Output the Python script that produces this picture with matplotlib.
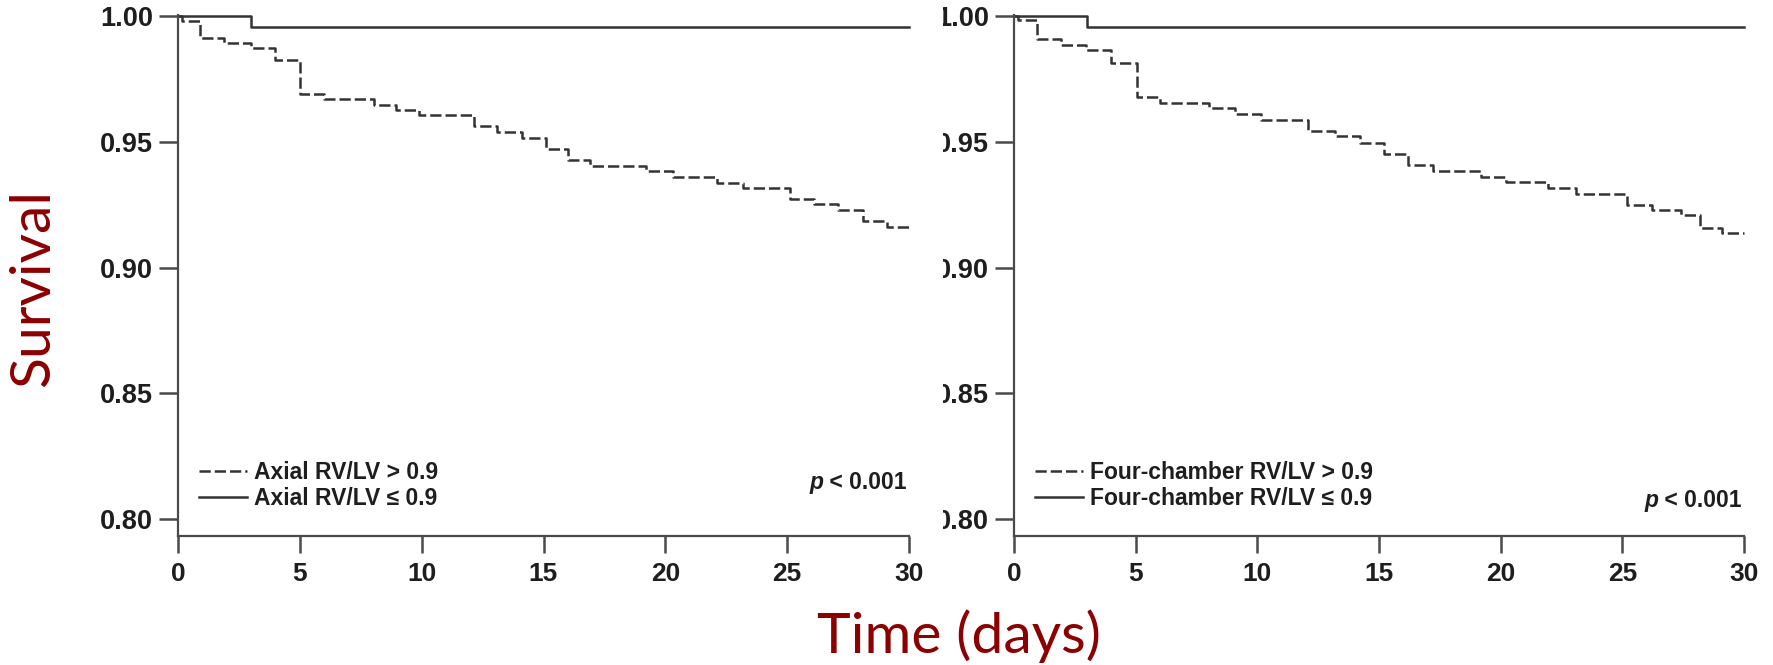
import matplotlib
matplotlib.use("Agg")
import matplotlib.pyplot as plt
from matplotlib.transforms import Bbox

# ---------------- data ----------------
axial_high_t = [0, 0.15, 0.9, 1.9, 3.0, 4.0, 5.0, 6.0, 8.05, 8.95, 9.9, 12.15, 13.1, 14.1,
                15.1, 16.0, 16.9, 19.2, 20.3, 22.1, 23.2, 25.1, 26.1, 27.1, 28.1, 29.1, 30]
axial_high_s = [1.0, 0.998, 0.9913, 0.9893, 0.9873, 0.9827, 0.9692, 0.9672, 0.9647, 0.9627,
                0.9607, 0.9562, 0.954, 0.9517, 0.947, 0.9428, 0.9406, 0.9383, 0.936, 0.9338,
                0.9315, 0.9272, 0.9252, 0.9229, 0.9185, 0.9161, 0.9161]
axial_low_t = [0, 3.0, 30]
axial_low_s = [1.0, 0.9958, 0.9958]

four_high_t = [0, 0.15, 0.94, 1.95, 2.97, 4.0, 5.07, 6.0, 8.0, 9.1, 10.15, 12.1, 13.2, 14.2,
               15.2, 16.2, 17.2, 19.2, 20.2, 21.95, 23.1, 25.2, 26.2, 27.4, 28.2, 29.1, 30]
four_high_s = [1.0, 0.9985, 0.9909, 0.9886, 0.9865, 0.9815, 0.9678, 0.9654, 0.9634, 0.9611,
               0.9587, 0.9543, 0.9523, 0.9497, 0.9453, 0.941, 0.9383, 0.9359, 0.9339, 0.9315,
               0.9292, 0.9249, 0.9229, 0.9208, 0.9158, 0.9138, 0.9138]
four_low_t = [0, 3.0, 30]
four_low_s = [1.0, 0.9958, 0.9958]

x_ticks = [0, 5, 10, 15, 20, 25, 30]
y_ticks = [0.80, 0.85, 0.90, 0.95, 1.00]
y_ticklabels = ["0.80", "0.85", "0.90", "0.95", "1.00"]

labels_left = ["Axial RV/LV > 0.9", "Axial RV/LV \u2264 0.9"]
labels_right = ["Four-chamber RV/LV > 0.9", "Four-chamber RV/LV \u2264 0.9"]
p_text = "p"
p_rest = " < 0.001"

# ---------------- style ----------------
W, H = 1774, 665
fig = plt.figure(figsize=(W / 100, H / 100), dpi=100)
fig.patch.set_facecolor("white")

tick_font = dict(family=["Liberation Sans", "DejaVu Sans"], weight="bold")
line_col = "#333333"
spine_col = "#4a4a4a"
text_col = "#1e1e1e"
red = "#8B0000"

ylo, yhi = 0.7932, 1.0005
ax_bottom = 1 - 536 / H
ax_height = 521 / H

ax1 = fig.add_axes([178 / W, ax_bottom, 731 / W, ax_height])
ax2 = fig.add_axes([1014 / W, ax_bottom, 730 / W, ax_height])


def style_axes(ax):
    for s in ["top", "right"]:
        ax.spines[s].set_visible(False)
    for s in ["left", "bottom"]:
        ax.spines[s].set_color(spine_col)
        ax.spines[s].set_linewidth(1.6)
    ax.set_xlim(0, 30)
    ax.set_ylim(ylo, yhi)
    ax.set_xticks(x_ticks)
    ax.set_yticks(y_ticks)
    ax.set_xticklabels([str(t) for t in x_ticks], fontsize=19, color=text_col, **tick_font)
    ax.set_yticklabels(y_ticklabels, fontsize=19.5, color=text_col, **tick_font)
    ax.tick_params(axis="x", length=12.5, width=1.8, color=spine_col, pad=6.5)
    ax.tick_params(axis="y", length=13.5, width=1.8, color=spine_col, pad=4.3)
    for sp in ax.spines.values():
        sp.set_clip_on(False)


def draw_panel(ax, ht, hs, lt, ls, labels, p_y):
    l1, = ax.step(ht, hs, where="post", color=line_col, lw=1.8,
                  linestyle=(0, (4.5, 1.6)), clip_on=False)
    l2, = ax.step(lt, ls, where="post", color=line_col, lw=1.8, clip_on=False)
    leg = ax.legend([l1, l2], labels, loc="center left", bbox_to_anchor=(0.0287, 0.097),
                    frameon=False, borderaxespad=0, borderpad=0, handlelength=2.1,
                    handletextpad=0.3, labelspacing=0.12,
                    prop=dict(family=["Liberation Sans", "DejaVu Sans"], weight="bold", size=16.5))
    for t in leg.get_texts():
        t.set_color(text_col)
    # p-value annotation: italic p + regular part, right aligned
    t2 = ax.text(0.997, p_y, p_rest, transform=ax.transAxes, ha="right", va="center",
                 fontsize=16.5, color=text_col, **tick_font)
    fig.canvas.draw()
    bb = t2.get_window_extent()
    inv = ax.transAxes.inverted()
    x_left = inv.transform((bb.x0, bb.y0))[0]
    ax.text(x_left, p_y, p_text, transform=ax.transAxes, ha="right", va="center",
            fontsize=16.5, color=text_col, style="italic", **tick_font)


style_axes(ax1)
style_axes(ax2)
draw_panel(ax1, axial_high_t, axial_high_s, axial_low_t, axial_low_s, labels_left, 0.102)
draw_panel(ax2, four_high_t, four_high_s, four_low_t, four_low_s, labels_right, 0.069)

# shared axis titles
fig.text(34 / W, 1 - 288 / H, "Survival", rotation=90, ha="center", va="center",
         fontsize=41, color=red, family=["Lato", "DejaVu Sans"])
fig.text(959 / W, 1 - 636 / H, "Time (days)", ha="center", va="center",
         fontsize=41, color=red, family=["Lato", "DejaVu Sans"])

# right panel y tick labels are cropped on their left side in the reference
fig.canvas.draw()
clip = Bbox.from_extents(943, 0, W, H)
for lab in ax2.get_yticklabels():
    lab.set_clip_on(True)
    lab.set_clip_box(clip)

fig.savefig("out.png", dpi=100, facecolor="white")
